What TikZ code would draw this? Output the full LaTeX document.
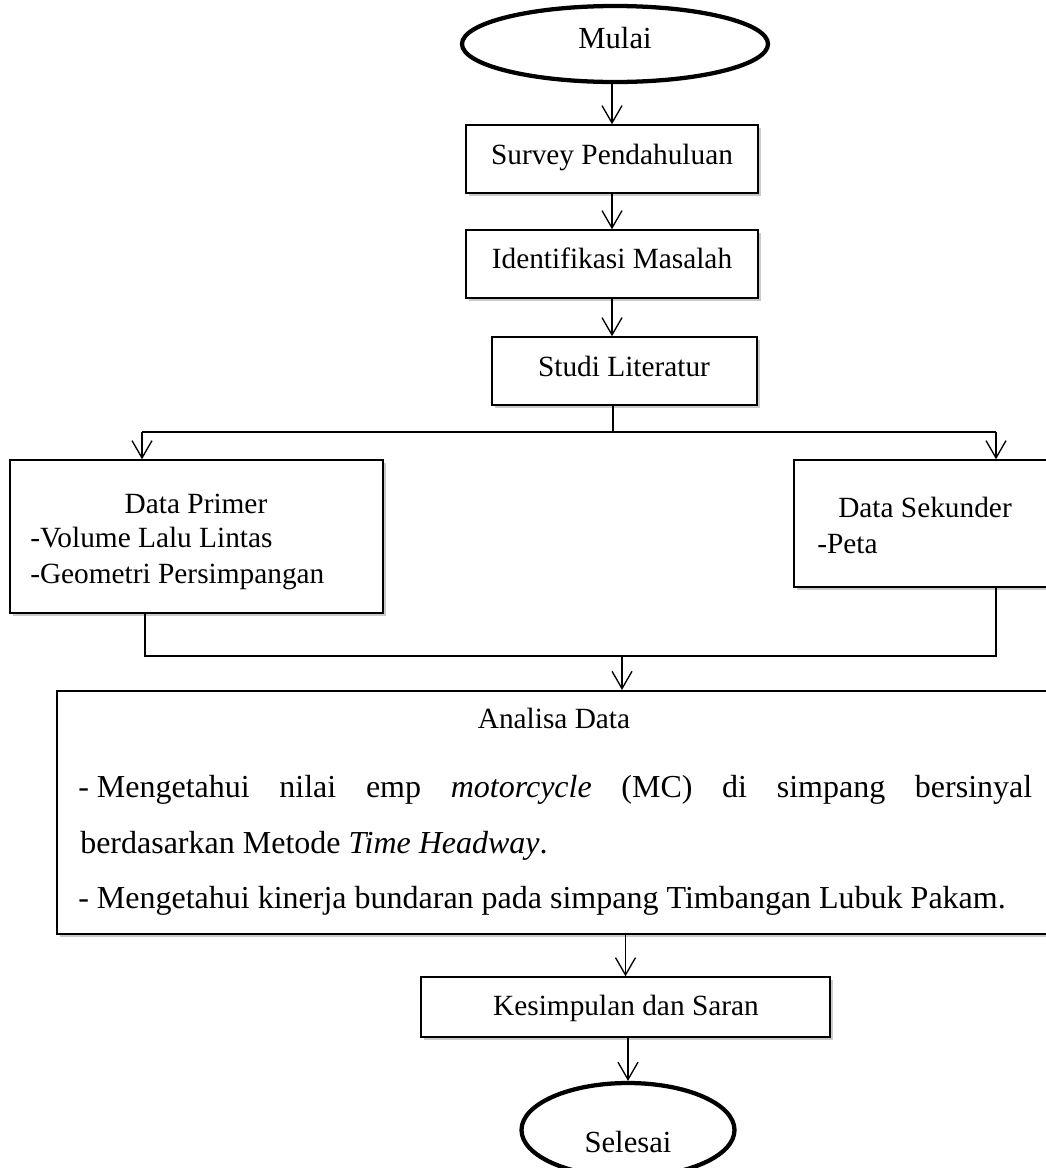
\documentclass[tikz,border=0pt]{standalone}
\usepackage{fontspec}
\setmainfont{Liberation Serif}
\usetikzlibrary{arrows.meta,shapes.geometric,shadows,fit}
\begin{document}
\begin{tikzpicture}[x=0.75pt,y=-0.75pt,
 box/.style={draw, line width=1.1pt, fill=white, inner sep=0pt,
   drop shadow={shadow xshift=2pt, shadow yshift=-2pt, opacity=0.35, fill=black!60}},
 term/.style={draw, ellipse, line width=3.2pt, inner sep=0pt, fill=white},
 txt/.style={inner sep=0pt, anchor=base, font=\fontsize{22pt}{26pt}\selectfont},
 ltxt/.style={txt, anchor=base west},
 ttxt/.style={inner sep=0pt, anchor=base, font=\fontsize{23pt}{27pt}\selectfont},
 big/.style={inner sep=0pt, font=\fontsize{24pt}{28pt}\selectfont, anchor=base west},
 conn/.style={line width=1pt},
 arr/.style={conn, -{Straight Barb[length=13pt,width=15pt,line width=1pt]}}
]
\useasboundingbox (0,0) rectangle (1046,1168);

% terminals
\node[term, minimum width=306*0.75pt, minimum height=76*0.75pt] (mulai) at (615,44) {};
\node[ttxt] (tmulai) at (615,48) {Mulai};
\node[term, minimum width=213*0.75pt, minimum height=94*0.75pt] (selesai) at (628,1130) {};
\node[ttxt] (tselesai) at (628,1152) {Selesai};

% boxes
\node[box, fit={(466,125) (758,193)}] (survey) {};
\node[box, fit={(466,230) (758,298)}] (ident) {};
\node[box, fit={(492,337) (757,405)}] (studi) {};
\node[box, fit={(10,460) (383,613)}] (primer) {};
\node[box, fit={(794,460) (1070,587)}] (sekunder) {};
\node[box, line width=1.6pt, fit={(57,691) (1070,934)}] (analisa) {};
\node[box, fit={(421,977) (830,1037)}] (kesimp) {};

% texts
\node[txt] (tsurvey) at (612,164) {Survey Pendahuluan};
\node[txt] (tident) at (612,268) {Identifikasi Masalah};
\node[txt] (tstudi) at (624,376) {Studi Literatur};
\node[txt] (tprimer) at (196,513) {Data Primer};
\node[ltxt] (tvol) at (30,547) {-Volume Lalu Lintas};
\node[ltxt] (tgeo) at (30,583) {-Geometri Persimpangan};
\node[ltxt] (tsek) at (838,517) {Data Sekunder};
\node[ltxt] (tpeta) at (817,553) {-Peta};
\node[txt] (tanalisa) at (554,728) {Analisa Data};
\node[big] (l1) at (78,797) {\makebox[715.5pt][s]{\mbox{- Mengetahui} nilai emp \textit{motorcycle} (MC) di simpang bersinyal}};
\node[big] (l2) at (80,853) {berdasarkan Metode \textit{Time Headway}.};
\node[big] (l3) at (78,908) {- Mengetahui kinerja bundaran pada simpang Timbangan Lubuk Pakam.};
\node[txt] (tkes) at (626,1015) {Kesimpulan dan Saran};

% connectors
\draw[arr] (survey.north |- mulai.south) -- (survey.north);
\draw[arr] (survey.south) -- (ident.north);
\draw[arr] (ident.south) -- (ident.south |- studi.north);

\coordinate (sp) at (613,432);
\coordinate (spl) at (142,432);
\coordinate (spr) at (996,432);
\draw[conn] (sp |- studi.south) -- (sp);
\draw[conn] (spl) -- (spr);
\draw[arr] (spl) -- (spl |- primer.north);
\draw[arr] (spr) -- (spr |- sekunder.north);

\coordinate (ml) at (145,656);
\coordinate (mr) at (996,656);
\coordinate (mm) at (622,656);
\draw[conn] (ml |- primer.south) -- (ml) -- (mr) -- (mr |- sekunder.south);
\draw[arr] (mm) -- (mm |- analisa.north);

\draw[arr] (kesimp.north |- analisa.south) -- (kesimp.north);
\draw[arr] (selesai.north |- kesimp.south) -- (selesai.north);
\end{tikzpicture}
\end{document}
